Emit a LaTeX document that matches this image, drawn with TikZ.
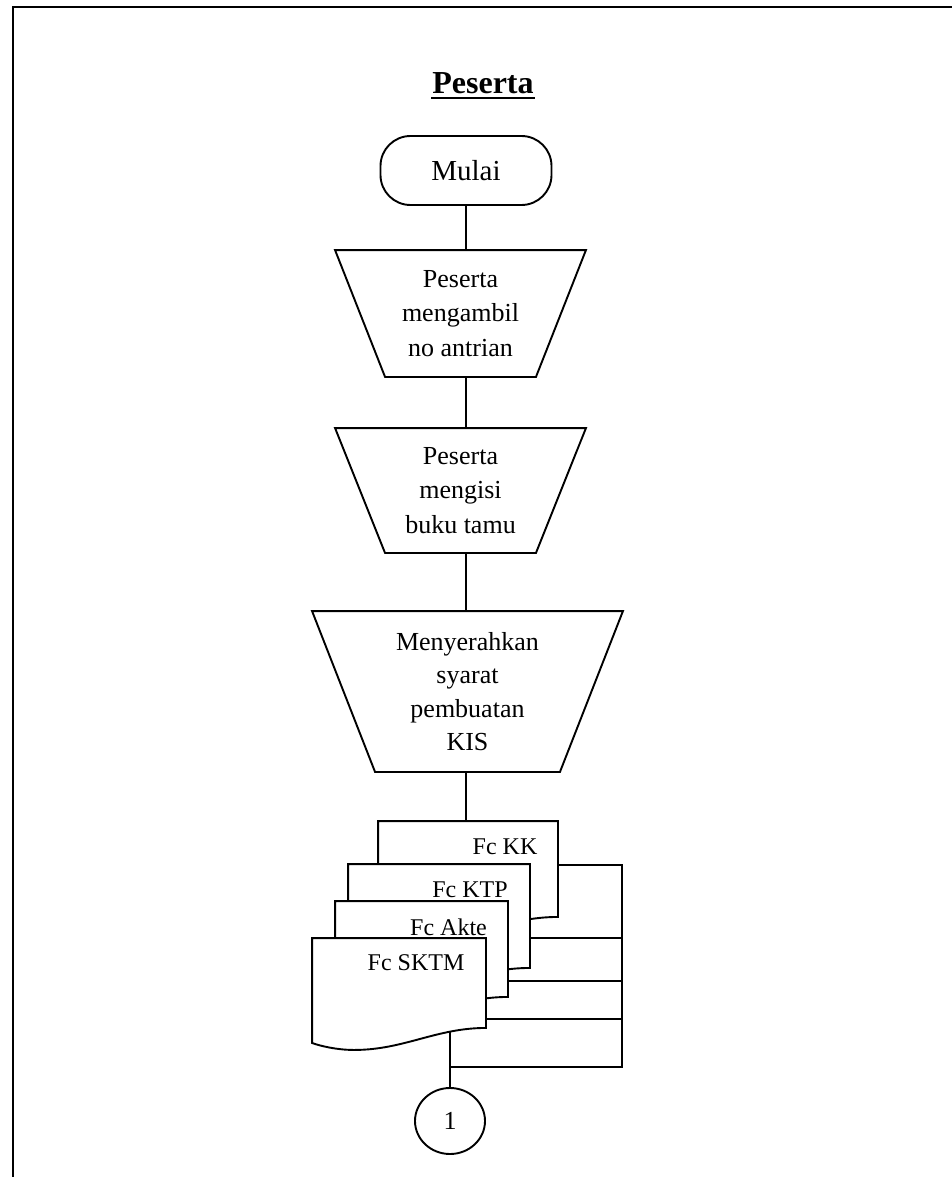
\documentclass[tikz,border=0pt]{standalone}
\usepackage{fontspec}
\setmainfont{Liberation Serif}
\usetikzlibrary{shapes.geometric,calc}
\begin{document}
\begin{tikzpicture}[x=1pt,y=-1pt,line width=1.9pt,
  every node/.style={inner sep=0pt,align=center,font=\fontsize{26}{34.5}\selectfont},
  doclabel/.style={font=\fontsize{24}{28}\selectfont},
  docshape/.style={draw,fill=white},
  term/.style={draw,rounded corners=30pt,minimum width=171pt,minimum height=69pt,font=\fontsize{29}{34}\selectfont},
  conn/.style={draw,ellipse,minimum width=70pt,minimum height=66pt}]
\useasboundingbox (0,0) rectangle (952,1177);
% frame
\draw[line width=2.2pt] (13,1177) -- (13,7) -- (952,7);
% title
\node[anchor=base,font=\fontsize{32}{38}\selectfont\bfseries] (title) at (483,94) {Peserta};
\draw[line width=2.6pt] ([yshift=-4pt]title.base west) -- ([yshift=-4pt]title.base east);
% start
\node[term] (mulai) at (466,170.5) {Mulai};
% trapezoids
\node[minimum width=249pt,minimum height=125pt] (t1) at (460.5,313.5) {Peserta\\mengambil\\no antrian};
\draw (t1.north west) -- (t1.north east) -- ([xshift=-50pt]t1.south east) -- ([xshift=50pt]t1.south west) -- cycle;
\node[minimum width=249pt,minimum height=123pt] (t2) at (460.5,490.5) {Peserta\\mengisi\\buku tamu};
\draw (t2.north west) -- (t2.north east) -- ([xshift=-50pt]t2.south east) -- ([xshift=50pt]t2.south west) -- cycle;
\node[minimum width=309pt,minimum height=159pt,font=\fontsize{26}{33.5}\selectfont] (t3) at (467.5,691.5) {Menyerahkan\\syarat\\pembuatan\\KIS};
\draw (t3.north west) -- (t3.north east) -- ([xshift=-63pt]t3.south east) -- ([xshift=63pt]t3.south west) -- cycle;
% connectors
\draw (mulai.south) -- (mulai.south |- t1.north);
\draw (mulai.south |- t1.south) -- (mulai.south |- t2.north);
\draw (mulai.south |- t2.south) -- (mulai.south |- t3.north);
% documents
\node[minimum width=178pt,minimum height=94pt] (kk) at (468,869) {};
\node[minimum width=180pt,minimum height=102pt] (ktp) at (439,916) {};
\node[minimum width=171pt,minimum height=94pt] (akte) at (421.5,949) {};
\node[minimum width=172pt,minimum height=88pt] (sktm) at (399,983) {};
\draw (mulai.south |- t3.south) -- (mulai.south |- kk.north);
\foreach \d in {kk,ktp,akte,sktm}{
  \path[docshape] (\d.north west) -- (\d.north east) -- (\d.south east)
    .. controls +(-50,0) and +(50,0) .. ($(\d.south west)+(42,22)$)
    .. controls +(-17,0) and +(8,3) .. ($(\d.south west)+(0,15)$) -- cycle;
}
\node[doclabel] (lkk) at (505,847) {Fc KK};
\node[doclabel] (lktp) at (470,890) {Fc KTP};
\node[doclabel] (lakte) at (448.5,927) {Fc Akte};
\node[doclabel] (lsktm) at (416,963) {Fc SKTM};
% connector circle
\node[conn] (c1) at (450,1121) {1};
\coordinate (sktmout) at (450,1032);
\coordinate (jtop) at (622,865);
\coordinate (j3) at (622,981);
\coordinate (j4) at (622,1019);
\coordinate (jbot) at (622,1067);
\draw (kk.east |- jtop) -- (jtop) -- (jbot) -- (sktmout |- jbot);
\draw (ktp.east |- sktm.north) -- (jtop |- sktm.north);
\draw (akte.east |- j3) -- (j3);
\draw (sktm.east |- j4) -- (j4);
\draw (sktmout) -- (c1.north);
\end{tikzpicture}
\end{document}
